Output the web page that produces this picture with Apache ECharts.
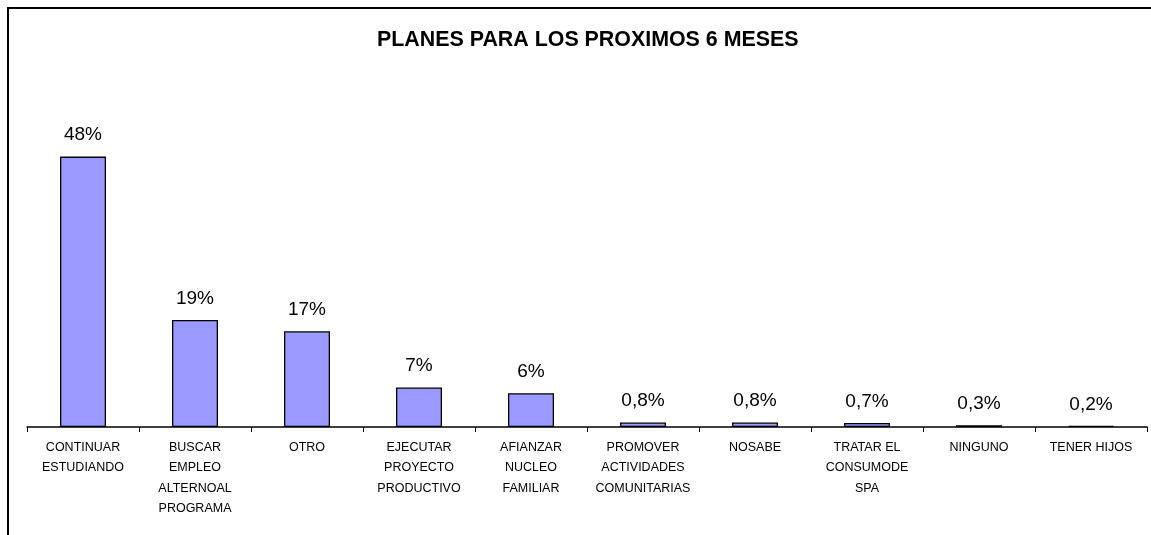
<!DOCTYPE html>
<html>
<head>
<meta charset="utf-8">
<script src="https://cdn.jsdelivr.net/npm/echarts@6/dist/echarts.min.js"></script>
<style>
  html, body { margin: 0; padding: 0; background: #fff; }
  #chart { width: 1151px; height: 535px; }
</style>
</head>
<body>
<div id="chart"></div>
<script>
// categories as printed under the axis (line breaks kept)
const categories = [
  'CONTINUAR\nESTUDIANDO',
  'BUSCAR\nEMPLEO\nALTERNOAL\nPROGRAMA',
  'OTRO',
  'EJECUTAR\nPROYECTO\nPRODUCTIVO',
  'AFIANZAR\nNUCLEO\nFAMILIAR',
  'PROMOVER\nACTIVIDADES\nCOMUNITARIAS',
  'NOSABE',
  'TRATAR EL\nCONSUMODE\nSPA',
  'NINGUNO',
  'TENER HIJOS'
]
const values = [48, 19, 17, 7, 6, 0.8, 0.8, 0.7, 0.3, 0.2]
const valueLabels = ['48%', '19%', '17%', '7%', '6%', '0,8%', '0,8%', '0,7%', '0,3%', '0,2%']

const chart = echarts.init(document.getElementById('chart'))
const option = {
  animation: false,
  backgroundColor: '#ffffff',
  title: {
    text: 'PLANES PARA LOS PROXIMOS 6 MESES',
    left: 377,
    top: 30,
    padding: 0,
    textStyle: {
      fontFamily: 'Liberation Sans, Arial, sans-serif',
      fontSize: 21.4,
      fontWeight: 'bold',
      color: '#000'
    }
  },
  // outer frame of the chart area
  graphic: [
    {
      type: 'rect',
      shape: { x: 8, y: 8, width: 1170, height: 560 },
      style: { fill: null, stroke: '#000', lineWidth: 2 },
      silent: true
    }
  ],
  grid: {
    left: 27,
    right: 4,
    top: 89,
    bottom: 108,
    containLabel: false
  },
  xAxis: {
    type: 'category',
    data: categories,
    boundaryGap: true,
    axisLine: { lineStyle: { color: '#000', width: 1.5 } },
    axisTick: { show: true, alignWithLabel: false, length: 5, lineStyle: { color: '#000' } },
    axisLabel: {
      interval: 0,
      margin: 10,
      color: '#000',
      fontFamily: 'Liberation Sans, Arial, sans-serif',
      fontSize: 12.5,
      lineHeight: 20.5,
      align: 'center'
    }
  },
  yAxis: {
    type: 'value',
    min: 0,
    max: 60,
    show: false,
    splitLine: { show: false }
  },
  series: [
    {
      type: 'bar',
      data: values,
      barWidth: 46,
      itemStyle: {
        color: '#9999FF',
        borderColor: '#000',
        borderWidth: 1.3
      },
      label: {
        show: true,
        position: 'top',
        distance: 12,
        color: '#000',
        fontFamily: 'Liberation Sans, Arial, sans-serif',
        fontSize: 19,
        formatter: (p) => valueLabels[p.dataIndex]
      }
    }
  ]
}
chart.setOption(option)
</script>
</body>
</html>
